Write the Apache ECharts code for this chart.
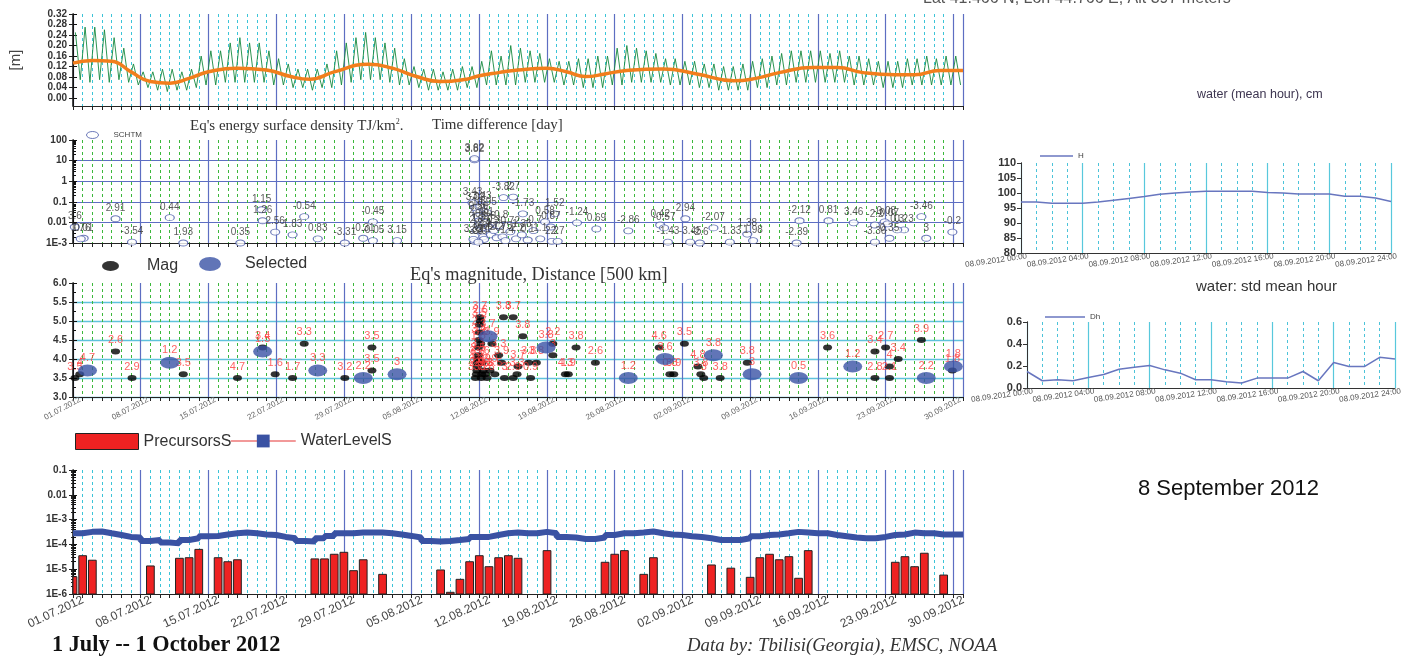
<!DOCTYPE html>
<html>
<head>
<meta charset="utf-8">
<script src="https://cdn.jsdelivr.net/npm/echarts@6/dist/echarts.min.js"></script>
<style>
html,body{margin:0;padding:0;background:#fff;}
#chart{width:1417px;height:661px;}
</style>
</head>
<body>
<div id="chart"></div>
<script>
// ---------------- data ----------------
// Water level [m], daily high / low of the tidal swing, 1 Jul .. 30 Sep 2012
const tideHigh = [0.25,0.27,0.27,0.26,0.23,0.19,0.13,0.10,0.10,0.11,
  0.11,0.10,0.11,0.16,0.18,0.18,0.21,0.23,0.21,0.21,
  0.18,0.15,0.13,0.11,0.11,0.11,0.13,0.18,0.21,0.23,
  0.25,0.23,0.21,0.19,0.15,0.12,0.11,0.11,0.10,0.11,
  0.12,0.12,0.14,0.18,0.16,0.20,0.19,0.18,0.17,0.15,
  0.14,0.14,0.15,0.15,0.16,0.16,0.19,0.20,0.19,0.18,
  0.17,0.15,0.15,0.14,0.14,0.13,0.13,0.12,0.12,0.13,
  0.14,0.15,0.16,0.17,0.18,0.18,0.18,0.18,0.17,0.18,
  0.16,0.16,0.15,0.14,0.14,0.14,0.15,0.15,0.16,0.15,
  0.16,0.16];
const tideLow = [0.07,0.06,0.07,0.06,0.07,0.06,0.05,0.04,0.03,0.025,
  0.03,0.03,0.04,0.05,0.05,0.06,0.06,0.06,0.06,0.06,
  0.05,0.05,0.04,0.04,0.03,0.04,0.04,0.05,0.06,0.07,
  0.07,0.07,0.06,0.05,0.05,0.04,0.03,0.03,0.03,0.03,
  0.04,0.04,0.05,0.05,0.05,0.05,0.06,0.06,0.06,0.06,
  0.05,0.05,0.04,0.04,0.04,0.05,0.05,0.06,0.06,0.06,
  0.06,0.05,0.05,0.05,0.04,0.04,0.03,0.03,0.03,0.03,
  0.04,0.04,0.05,0.05,0.06,0.06,0.06,0.06,0.06,0.06,
  0.05,0.05,0.05,0.04,0.04,0.04,0.05,0.05,0.05,0.05,
  0.05,0.05];
// smoothed mean level [m] (day offset from 1 Jul, value)
const meanDays = [0,2,4,6,8,10,12,14,17,20,22.5,24.5,27,30.5,33,35.5,38,40.7,42,44,46,49,51,53,55,57,61,64.5,68.3,70.7,73,76.5,79,81.7,85,87,89.6,92];
const meanVals = [0.133,0.143,0.14,0.10,0.063,0.057,0.075,0.10,0.114,0.107,0.082,0.072,0.10,0.129,0.114,0.082,0.063,0.072,0.085,0.097,0.107,0.114,0.10,0.082,0.092,0.104,0.111,0.092,0.066,0.076,0.097,0.116,0.116,0.097,0.089,0.089,0.105,0.105];

// Earthquake energy surface density [TJ/km2] and time difference [day]
const energyDay = [0.19,1.1,0.8,4.4,6.1,10.0,11.4,17.3,19.5,19.6,20.9,22.7,23.9,25.3,28.1,30.0,31.0,31.0,33.5,
  41.5,41.5,41.3,41.6,41.8,41.9,42.0,42.1,42.2,42.3,42.4,42.5,41.5,41.7,42.6,42.8,43.0,43.2,43.5,43.8,44.1,44.4,44.7,45.2,45.8,46.4,47.0,47.6,48.3,41.4,41.9,42.1,49.5,50.1,
  44.5,45.5,46.5,48.8,49.4,49.8,52.1,54.1,57.4,60.7,61.1,61.5,63.3,63.8,64.8,66.2,67.9,69.7,70.3,74.8,75.1,78.1,80.7,82.9,83.9,84.2,85.9,82.9,84.4,85.2,87.7,88.2,90.9];
const energyValue = [0.006,0.0017,0.0016,0.015,0.0011,0.017,0.001,0.001,0.041,0.012,0.0034,0.0025,0.019,0.0016,0.001,0.0017,0.0013,0.0105,0.0013,
  11,12.5,0.09,0.05,0.03,0.02,0.012,0.008,0.005,0.003,0.002,0.0015,0.0012,0.004,0.01,0.03,0.006,0.0025,0.004,0.0018,0.007,0.002,0.0013,0.0035,0.0016,0.0025,0.0014,0.004,0.0016,0.0015,0.0011,0.06,0.0012,0.0012,
  0.16,0.17,0.026,0.0105,0.006,0.026,0.0095,0.0048,0.0039,0.0075,0.0054,0.0011,0.015,0.0011,0.001,0.0054,0.0011,0.0027,0.0013,0.001,0.012,0.012,0.0095,0.0075,0.0105,0.0085,0.0043,0.0011,0.0017,0.0043,0.019,0.0017,0.0034];
const energyDt = ['3.6','0.01','1.76','2.91','-3.54','0.44','1.93','0.35','1.15','1.26','2.56','1.83','-0.54','0.83','-3.31','-0.31','-0.05','-0.45','3.15',
  '3.82','3.62','3.43','3.02','-1.6','0.56','2.15','-0.9','1.37','-2.4','0.66','3.1','-3.3','2.8','-1.1','0.95','1.6','-2.7','0.3','2.2','-0.8','1.75','-1.4','0.72','-2.2','1.36','0.1','-0.7','1.1','3.32','-3.0','-3.43','2.2','2.7',
  '-3.82','2.7','-1.73','0.58','0.87','1.52','-1.24','0.69','-2.86','0.42','-0.57','-1.43','2.94','-3.45','-2.6','-2.07','-1.33','1.38','1.98','-2.39','-2.12','0.81','3.46','-2.2','-0.08','-0.07','0.23','-3.36','0.35','0.3','-3.46','3','-0.2'];

// Earthquake magnitude and distance [500 km]
const magDay = [0.2,0.7,4.4,6.1,11.4,17.0,19.6,20.9,22.7,23.9,28.1,30.9,30.9,
  41.6,41.7,41.75,41.8,41.8,41.85,41.9,41.9,41.95,42.0,42.0,42.05,42.1,42.15,42.2,42.25,42.3,42.4,42.6,42.8,43.1,43.3,43.6,44.0,44.3,44.6,45.5,45.9,46.0,
  44.5,45.5,46.5,47.1,47.9,47.3,49.6,49.6,50.9,51.2,52.0,54.0,60.6,61.7,62.1,63.2,64.6,64.9,65.2,66.9,69.7,78.0,82.9,82.9,84.0,84.4,84.4,85.3,87.7,90.9];
const magValue = [3.5,3.6,4.2,3.5,3.6,3.5,4.3,3.6,3.5,4.4,3.5,3.7,4.3,
  3.5,3.6,3.7,3.8,3.9,4.0,4.1,4.3,4.5,4.7,4.9,5.1,5.0,4.4,3.5,3.6,3.9,3.7,3.6,3.5,3.7,4.4,3.6,4.1,3.9,3.5,3.5,3.6,3.8,
  5.1,5.1,4.6,3.9,3.9,3.5,4.4,4.1,3.6,3.6,4.3,3.9,4.3,3.6,3.6,4.4,3.8,3.6,3.5,3.5,3.9,4.3,4.2,3.5,4.3,3.8,3.5,4.0,4.5,3.7];
const magDist = ['3.5','4','2.6','2.9','3.5','4.7','3.4','1.6','1.7','3.3','3.2','3.5','3.5',
  '3.7','2.9','3.3','1.2','3.7','2.5','3.1','1.8','3.4','2.7','3.5','3.7','2.6','3.9','3.2','2.8','3.6','1.9','3.3','3.8','2.9','3.9','3.5','3.3','3.9','3','2.9','3.3','3.7',
  '3.8','3.7','3.8','3.8','3.8','0.9','2.2','3','4.3','1.9','3.8','2.6','4.6','0.8','3.9','3.5','4.8','3.8','3','3.8','3.8','3.6','3.4','2.8','2.7','4','2.1','3.4','3.9','1.8'];
const selDay = [1.5,10.0,19.6,25.3,30.0,33.5,42.9,48.9,57.4,61.2,66.2,70.2,75.0,80.6,88.2,91.0];
const selValue = [3.7,3.9,4.2,3.7,3.5,3.6,4.6,4.3,3.5,4.0,4.1,3.6,3.5,3.8,3.5,3.8];
const selDist = ['4.7','1.2','1.5','3.3','2.2','3','3.7','3.8','1.2','3.6','3.8','3','0.5','1.2','2.2','1.8'];

// Precursors (daily) and water level index, log scale
const precursorDates = ['01.07','02.07','03.07','09.07','12.07','13.07','14.07','16.07','17.07','18.07',
  '26.07','27.07','28.07','29.07','30.07','31.07','02.08','08.08','09.08','10.08','11.08','12.08','13.08','14.08','15.08','16.08','19.08',
  '25.08','26.08','27.08','29.08','30.08','05.09','07.09','09.09','10.09','11.09','12.09','13.09','14.09','15.09',
  '24.09','25.09','26.09','27.09','29.09'];
const precursorValues = [5.0e-6,3.5e-5,2.3e-5,1.35e-5,2.75e-5,2.9e-5,6.3e-5,2.9e-5,2.0e-5,2.4e-5,
  2.6e-5,2.6e-5,4.0e-5,4.8e-5,8.7e-6,2.4e-5,6.2e-6,9.3e-6,1.17e-6,3.9e-6,2.0e-5,3.5e-5,1.26e-5,2.9e-5,3.5e-5,2.75e-5,5.6e-5,
  1.9e-5,4.0e-5,5.6e-5,6.2e-6,2.9e-5,1.48e-5,1.1e-5,4.7e-6,2.9e-5,4.0e-5,2.4e-5,3.2e-5,4.3e-6,5.6e-5,
  1.9e-5,3.2e-5,1.26e-5,4.4e-5,5.8e-6];
// water level index, one value per day from 1 Jul to 1 Oct
const waterLevelS = [2.8e-4,3.2e-4,3.3e-4,2.8e-4,2.4e-4,2.0e-4,1.9e-4,1.37e-4,1.5e-4,1.2e-4,
  1.1e-4,1.5e-4,1.77e-4,2.15e-4,2.2e-4,2.5e-4,2.8e-4,3.0e-4,2.8e-4,2.5e-4,
  2.4e-4,2.0e-4,1.77e-4,1.37e-4,1.3e-4,1.77e-4,2.2e-4,2.8e-4,2.8e-4,3.0e-4,
  3.0e-4,3.0e-4,2.8e-4,2.5e-4,2.2e-4,1.9e-4,1.37e-4,1.3e-4,1.37e-4,1.5e-4,
  1.65e-4,2.0e-4,2.0e-4,2.4e-4,2.8e-4,3.0e-4,2.8e-4,2.8e-4,3.2e-4,2.8e-4,
  2.0e-4,1.9e-4,1.65e-4,1.65e-4,1.9e-4,2.4e-4,2.8e-4,2.8e-4,3.0e-4,3.3e-4,
  2.8e-4,2.5e-4,2.4e-4,2.15e-4,2.0e-4,1.77e-4,1.5e-4,1.5e-4,1.5e-4,1.77e-4,
  2.15e-4,2.4e-4,2.5e-4,2.8e-4,3.2e-4,3.0e-4,2.8e-4,2.8e-4,2.4e-4,2.15e-4,
  1.9e-4,1.77e-4,1.77e-4,2.0e-4,2.4e-4,2.5e-4,3.0e-4,2.8e-4,2.8e-4,2.5e-4,
  2.5e-4,2.5e-4,2.5e-4];

// 8 September 2012, hourly
const hours = [0,1,2,3,4,5,6,7,8,9,10,11,12,13,14,15,16,17,18,19,20,21,22,23,24];
const waterH = [97.0,97.0,96.6,96.6,96.6,97.0,97.6,98.2,98.8,99.6,100.0,100.3,100.6,100.6,100.6,100.6,100.2,100.0,99.7,99.7,99.7,98.9,98.9,98.3,97.2];
const waterDh = [0.15,0.066,0.075,0.066,0.096,0.123,0.171,0.189,0.204,0.165,0.135,0.075,0.075,0.057,0.045,0.09,0.09,0.09,0.15,0.066,0.231,0.195,0.195,0.279,0.264];

// ---------------- helpers ----------------
const DAY_MS = 86400000;
const START = Date.UTC(2012, 6, 1);
const SANS = '"Liberation Sans", Arial, sans-serif';
const SERIF = '"Liberation Serif", "Times New Roman", serif';
function dayOf(s) { const p = s.split('.'); return (Date.UTC(2012, +p[1] - 1, +p[0]) - START) / DAY_MS; }
function dateLabel(d) {
  const t = new Date(START + Math.round(d) * DAY_MS);
  return String(t.getUTCDate()).padStart(2, '0') + '.' + String(t.getUTCMonth() + 1).padStart(2, '0') + '.' + t.getUTCFullYear();
}
function logLabel(v) {
  const e = Math.round(Math.log10(v));
  return e >= -2 ? String(+v.toPrecision(1)) : '1E' + e;
}
function hourLabel(h) { return '08.09.2012 ' + String(h).padStart(2, '0') + ':00'; }

const tidePoints = [];
tideHigh.forEach((h, k) => { tidePoints.push([k + 0.25, h]); tidePoints.push([k + 0.75, tideLow[k]]); });
const meanPoints = meanDays.map((d, i) => [d, meanVals[i]]);
const energyPoints = energyDay.map((d, i) => [d, energyValue[i], energyDt[i]]);
const magPoints = magDay.map((d, i) => [d, magValue[i], magDist[i]]);
const selPoints = selDay.map((d, i) => [d, selValue[i], selDist[i]]);
const barPoints = precursorDates.map((s, i) => [dayOf(s), precursorValues[i]]);
const wlPoints = waterLevelS.map((v, i) => [i, v]);

const ELLIPSE = 'path://M50,0A50,50,0,1,1,50,100A50,50,0,1,1,50,0Z';
const WEEK_BLUE = '#5d6ec2';

// two x axes per panel: daily dashed lines and weekly solid lines
function periodAxes(grid, dashColor, labelStyle, tickLen) {
  return [
    { type: 'value', gridIndex: grid, position: 'bottom', min: 0, max: 92, interval: 1,
      axisLine: { show: true, onZero: false, lineStyle: { color: '#222', width: 1 } },
      axisTick: { show: true, length: tickLen, lineStyle: { color: '#222' } },
      axisLabel: { show: false },
      splitLine: { show: true, lineStyle: { color: dashColor, type: [3, 3], width: 1 } } },
    { type: 'value', gridIndex: grid, position: 'bottom', min: 0, max: 92, interval: 7,
      axisLine: { show: false, onZero: false }, axisTick: { show: false },
      axisLabel: labelStyle ? Object.assign({ show: true, formatter: dateLabel, showMaxLabel: false, hideOverlap: false }, labelStyle) : { show: false },
      splitLine: { show: true, lineStyle: { color: WEEK_BLUE, width: 1.2 } } }
  ];
}
function hourAxes(grid) {
  return [
    { type: 'value', gridIndex: grid, position: 'bottom', min: 0, max: 24, interval: 1,
      axisLine: { show: true, onZero: false, lineStyle: { color: '#333' } }, axisTick: { show: false },
      axisLabel: { show: false },
      splitLine: { show: true, lineStyle: { color: '#4cc3d9', type: [3, 3] } } },
    { type: 'value', gridIndex: grid, position: 'bottom', min: 0, max: 24, interval: 4,
      axisLine: { show: false, onZero: false }, axisTick: { show: false },
      axisLabel: { show: true, formatter: hourLabel, rotate: 8, fontSize: 8, color: '#555', fontFamily: SANS, margin: 4, padding: [0, -6, 0, 0], hideOverlap: false },
      splitLine: { show: true, lineStyle: { color: '#58c8dc', width: 1.2 } } }
  ];
}
const leftLabel = { fontSize: 10, fontWeight: 'bold', color: '#333', fontFamily: SANS, margin: 6 };
function rightAxis(grid, extra) {
  return Object.assign({ gridIndex: grid, position: 'right',
    axisLine: { show: true, lineStyle: { color: '#111', width: 1.5 } },
    axisTick: { show: true, length: 4, lineStyle: { color: '#111' } },
    axisLabel: { show: false }, splitLine: { show: false } }, extra);
}

const option = {
  animation: false,
  backgroundColor: '#fff',
  textStyle: { fontFamily: SANS },
  grid: [
    { left: 73, top: 14, width: 890, height: 92, outerBoundsMode: 'none' },
    { left: 73, top: 140, width: 890, height: 103, outerBoundsMode: 'none' },
    { left: 73, top: 283, width: 890, height: 114, outerBoundsMode: 'none' },
    { left: 73, top: 470, width: 890, height: 124, outerBoundsMode: 'none' },
    { left: 1021, top: 163, width: 370, height: 90, outerBoundsMode: 'none' },
    { left: 1027, top: 322, width: 368, height: 66, outerBoundsMode: 'none' }
  ],
  xAxis: [].concat(
    periodAxes(0, '#3cc4d8', null, 4),
    periodAxes(1, '#3cb83c', null, 4),
    periodAxes(2, '#3cb83c', { rotate: 28, fontSize: 8, color: '#666', fontFamily: SANS, margin: 6, padding: [0, -8, 0, 0] }, 4),
    periodAxes(3, '#3cc4d8', { rotate: 25, fontSize: 12, color: '#444', fontFamily: SANS, margin: 10, padding: [0, -11, 0, 0] }, 4),
    hourAxes(4),
    hourAxes(5)
  ),
  yAxis: [
    { type: 'value', gridIndex: 0, min: -0.03, max: 0.32,
      name: '[m]', nameLocation: 'middle', nameGap: 50, nameRotate: 90,
      nameTextStyle: { fontSize: 15, color: '#444', fontFamily: SANS },
      axisLine: { show: true, lineStyle: { color: '#222' } },
      axisTick: { show: true, length: 4, customValues: [0, 0.04, 0.08, 0.12, 0.16, 0.2, 0.24, 0.28, 0.32], lineStyle: { color: '#222' } },
      axisLabel: Object.assign({ customValues: [0, 0.04, 0.08, 0.12, 0.16, 0.2, 0.24, 0.28, 0.32], formatter: v => v.toFixed(2) }, leftLabel),
      splitLine: { show: false } },
    rightAxis(0, { type: 'value', min: -0.03, max: 0.32,
      axisTick: { show: true, length: 4, customValues: [0, 0.04, 0.08, 0.12, 0.16, 0.2, 0.24, 0.28, 0.32], lineStyle: { color: '#111' } } }),
    { type: 'log', gridIndex: 1, min: 0.001, max: 100, logBase: 10, splitNumber: 5,
      axisLine: { show: true, lineStyle: { color: '#222' } },
      axisTick: { show: true, length: 4, lineStyle: { color: '#222' } },
      axisLabel: Object.assign({ formatter: logLabel }, leftLabel),
      splitLine: { show: true, showMaxLine: false, lineStyle: { color: WEEK_BLUE, width: 1.2 } } },
    rightAxis(1, { type: 'log', min: 0.001, max: 100, logBase: 10, splitNumber: 5,
      minorTick: { show: true, splitNumber: 9, length: 3, lineStyle: { color: '#111' } } }),
    { type: 'value', gridIndex: 2, min: 3, max: 6, interval: 0.5,
      axisLine: { show: true, lineStyle: { color: '#222' } },
      axisTick: { show: true, length: 4, lineStyle: { color: '#222' } },
      axisLabel: Object.assign({ formatter: v => v.toFixed(1) }, leftLabel),
      splitLine: { show: true, showMaxLine: false, lineStyle: { color: '#5fc2dc', width: 1.3 } } },
    rightAxis(2, { type: 'value', min: 3, max: 6, interval: 0.5,
      minorTick: { show: true, splitNumber: 2, length: 3, lineStyle: { color: '#111' } } }),
    { type: 'log', gridIndex: 3, min: 1e-6, max: 0.1, logBase: 10, splitNumber: 5,
      axisLine: { show: true, lineStyle: { color: '#222' } },
      axisTick: { show: true, length: 4, lineStyle: { color: '#222' } },
      minorTick: { show: true, splitNumber: 9, length: 2, lineStyle: { color: '#222' } },
      axisLabel: Object.assign({ formatter: logLabel }, leftLabel),
      splitLine: { show: false } },
    rightAxis(3, { type: 'log', min: 1e-6, max: 0.1, logBase: 10, splitNumber: 5,
      minorTick: { show: true, splitNumber: 9, length: 3, lineStyle: { color: '#111' } } }),
    { type: 'value', gridIndex: 4, min: 80, max: 110, interval: 5,
      axisLine: { show: true, lineStyle: { color: '#333' } },
      axisTick: { show: true, length: 4, lineStyle: { color: '#333' } },
      axisLabel: { fontSize: 11, fontWeight: 'bold', color: '#333', fontFamily: SANS, margin: 5 },
      splitLine: { show: false } },
    rightAxis(4, { type: 'value', min: 80, max: 110, interval: 5, axisTick: { show: false },
      axisLine: { show: true, lineStyle: { color: '#333', width: 1 } } }),
    { type: 'value', gridIndex: 5, min: 0, max: 0.6, interval: 0.2,
      axisLine: { show: true, lineStyle: { color: '#333' } },
      axisTick: { show: true, length: 4, lineStyle: { color: '#333' } },
      axisLabel: { fontSize: 11, fontWeight: 'bold', color: '#333', fontFamily: SANS, margin: 5, formatter: v => v.toFixed(1) },
      splitLine: { show: false } },
    rightAxis(5, { type: 'value', min: 0, max: 0.6, interval: 0.2, axisTick: { show: false },
      axisLine: { show: true, lineStyle: { color: '#333', width: 1 } } })
  ],
  legend: [
    { left: 86, top: 131, padding: 0, itemWidth: 12, itemHeight: 7, itemGap: 4, symbolKeepAspect: false,
      textStyle: { fontSize: 8, color: '#444', fontFamily: SANS, padding: [0, 0, 0, 10] },
      data: [{ name: 'SCHTM', icon: ELLIPSE, itemStyle: { color: '#fff', borderColor: '#4757a8', borderWidth: 1 } }] },
    { left: 102, top: 258, padding: 0, itemWidth: 17, itemHeight: 10, symbolKeepAspect: false,
      textStyle: { fontSize: 16, color: '#333', fontFamily: SANS, padding: [0, 0, 0, 23] },
      data: [{ name: 'Mag', icon: ELLIPSE }] },
    { left: 199, top: 256, padding: 0, itemWidth: 22, itemHeight: 14, symbolKeepAspect: false,
      textStyle: { fontSize: 16, color: '#333', fontFamily: SANS, padding: [0, 0, 0, 19] },
      data: [{ name: 'Selected', icon: ELLIPSE }] },
    { left: 75, top: 433, padding: 0, itemWidth: 63, itemHeight: 16,
      textStyle: { fontSize: 16, color: '#333', fontFamily: SANS },
      data: [{ name: 'PrecursorsS', icon: 'rect', itemStyle: { color: '#ee2222', borderColor: '#222', borderWidth: 1 } }] },
    { left: 230, top: 433, padding: 0, itemWidth: 65, itemHeight: 16,
      textStyle: { fontSize: 16, color: '#333', fontFamily: SANS },
      data: [{ name: 'WaterLevelS', lineStyle: { color: '#ee7777', width: 1.5 }, itemStyle: { color: '#3a52a3' } }] },
    { left: 1040, top: 152, padding: 0, itemWidth: 33, itemHeight: 1.5,
      textStyle: { fontSize: 8, color: '#444', fontFamily: SANS },
      data: [{ name: 'H', icon: 'rect', itemStyle: { color: '#6876bf' } }] },
    { left: 1045, top: 313, padding: 0, itemWidth: 40, itemHeight: 1.5,
      textStyle: { fontSize: 8, color: '#444', fontFamily: SANS },
      data: [{ name: 'Dh', icon: 'rect', itemStyle: { color: '#6876bf' } }] }
  ],
  title: [
    { text: 'Lat 41.466 N, Lon 44.766 E, Alt 397 meters', left: 923, top: -9, padding: 0,
      textStyle: { fontSize: 16, fontWeight: 'normal', color: '#555', fontFamily: SANS } },
    { text: "Eq's energy surface density TJ/km{sup|2}.", left: 190, top: 118, padding: 0,
      textStyle: { fontSize: 15, fontWeight: 'normal', color: '#333', fontFamily: SERIF,
        rich: { sup: { fontSize: 8, verticalAlign: 'top', padding: [0, 0, 8, 0], fontFamily: SERIF, color: '#333' } } } },
    { text: 'Time difference [day]', left: 432, top: 118, padding: 0,
      textStyle: { fontSize: 15, fontWeight: 'normal', color: '#333', fontFamily: SERIF } },
    { text: "Eq's magnitude, Distance [500 km]", left: 410, top: 266, padding: 0,
      textStyle: { fontSize: 18.3, fontWeight: 'normal', color: '#333', fontFamily: SERIF } },
    { text: 'water (mean hour), cm', left: 1197, top: 88, padding: 0,
      textStyle: { fontSize: 12.5, fontWeight: 'normal', color: '#3d3550', fontFamily: SANS } },
    { text: 'water: std mean hour', left: 1196, top: 279, padding: 0,
      textStyle: { fontSize: 15, fontWeight: 'normal', color: '#333', fontFamily: SANS } },
    { text: '8 September 2012', left: 1138, top: 478, padding: 0,
      textStyle: { fontSize: 22, fontWeight: 'normal', color: '#111', fontFamily: SANS } },
    { text: '1 July -- 1 October 2012', left: 52, top: 634, padding: 0,
      textStyle: { fontSize: 22.3, fontWeight: 'bold', color: '#111', fontFamily: SERIF } },
    { text: 'Data by: Tbilisi(Georgia), EMSC, NOAA', left: 687, top: 637, padding: 0,
      textStyle: { fontSize: 18.8, fontWeight: 'normal', fontStyle: 'italic', color: '#333', fontFamily: SERIF } }
  ],
  series: [
    { name: 'Water', type: 'line', xAxisIndex: 0, yAxisIndex: 0, data: tidePoints, symbol: 'none',
      lineStyle: { color: '#17893f', width: 1, opacity: 0.9 }, z: 3 },
    { name: 'Mean', type: 'line', xAxisIndex: 0, yAxisIndex: 0, data: meanPoints, symbol: 'none', smooth: 0.5,
      lineStyle: { color: '#f27e1c', width: 3.5 }, z: 4 },
    { name: 'SCHTM', type: 'scatter', xAxisIndex: 2, yAxisIndex: 2, data: energyPoints,
      symbol: ELLIPSE, symbolSize: [9, 6],
      itemStyle: { color: '#fff', borderColor: '#4757a8', borderWidth: 1 },
      label: { show: true, position: 'top', distance: 2, fontSize: 10, color: '#333', fontFamily: SANS,
        formatter: p => p.data[2] }, z: 4 },
    { name: 'Mag', type: 'scatter', xAxisIndex: 4, yAxisIndex: 4, data: magPoints,
      symbol: ELLIPSE, symbolSize: [9, 6], itemStyle: { color: '#000' },
      label: { show: true, position: 'top', distance: 3, fontSize: 11, color: '#ff3b3b', fontFamily: SANS,
        formatter: p => p.data[2] }, z: 4 },
    { name: 'Selected', type: 'scatter', xAxisIndex: 4, yAxisIndex: 4, data: selPoints,
      symbol: ELLIPSE, symbolSize: [19, 12], itemStyle: { color: '#3a52a5' },
      label: { show: true, position: 'top', distance: 1, fontSize: 11, color: '#ff3b3b', fontFamily: SANS,
        formatter: p => p.data[2] }, z: 5 },
    { name: 'PrecursorsS', type: 'custom', xAxisIndex: 6, yAxisIndex: 6, data: barPoints, z: 3,
      itemStyle: { color: '#ee2222' },
      renderItem: function (params, api) {
        const d = api.value(0), v = api.value(1);
        const top = api.coord([d, v]);
        const base = api.coord([d, 1e-6]);
        const w = (api.coord([d + 1, v])[0] - top[0]) * 0.8;
        const rect = echarts.graphic.clipRectByRect(
          { x: top[0] - w / 2, y: top[1], width: w, height: base[1] - top[1] },
          { x: params.coordSys.x, y: params.coordSys.y, width: params.coordSys.width, height: params.coordSys.height });
        return rect && { type: 'rect', shape: rect, style: { fill: '#ee2222', stroke: '#222', lineWidth: 1 } };
      } },
    { name: 'WaterLevelS', type: 'line', xAxisIndex: 6, yAxisIndex: 6, data: wlPoints, step: 'end',
      symbol: 'rect', symbolSize: [20, 12], showSymbol: false,
      itemStyle: { color: '#3a52a3' },
      lineStyle: { color: '#3a52a3', width: 6 }, z: 4 },
    { name: 'H', type: 'line', xAxisIndex: 8, yAxisIndex: 8, data: hours.map((h, i) => [h, waterH[i]]),
      symbol: 'none', lineStyle: { color: '#6876bf', width: 1.5 }, itemStyle: { color: '#6876bf' } },
    { name: 'Dh', type: 'line', xAxisIndex: 10, yAxisIndex: 10, data: hours.map((h, i) => [h, waterDh[i]]),
      symbol: 'none', lineStyle: { color: '#6876bf', width: 1.5 }, itemStyle: { color: '#6876bf' } }
  ]
};

const chart = echarts.init(document.getElementById('chart'), null, { renderer: 'canvas' });
chart.setOption(option);
</script>
</body>
</html>
